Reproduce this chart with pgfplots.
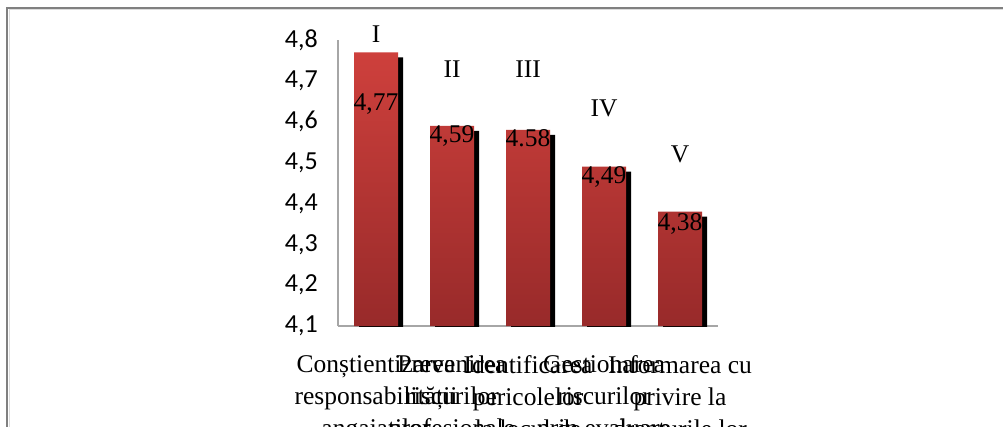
\documentclass[border=0pt]{standalone}
\usepackage{fontspec}
\setmainfont{Liberation Serif}
\newfontfamily\tickfont{Carlito}
\usepackage{pgfplots}
\usepackage{pgfplotstable}
\pgfplotsset{compat=1.18}
\definecolor{barTop}{RGB}{206,64,60}
\definecolor{barBot}{RGB}{152,42,42}
\definecolor{axGray}{RGB}{166,166,166}
\definecolor{frameGray}{RGB}{128,128,128}
\definecolor{frameLight}{RGB}{220,220,220}
\newcommand\bigfont{\fontsize{25.5}{32}\selectfont}

\pgfplotstableread{
x y label dy
0 4.77 {4,77} -58
1 4.59 {4,59} -17
2 4.58 {4.58} -17
3 4.49 {4,49} -17
4 4.38 {4,38} -19
}\datatable

\begin{document}
\begin{tikzpicture}
\useasboundingbox (0,0) rectangle (1003pt,426pt);
\clip (0,0) rectangle (1003pt,426pt);
\fill[white] (0,0) rectangle (1003pt,426pt);
\draw[frameLight, line width=1pt] (9pt,-20pt) -- (9pt,416.5pt) -- (1020pt,416.5pt);
\draw[frameGray, line width=1.6pt] (7pt,-20pt) -- (7pt,418pt) -- (1020pt,418pt);
\begin{axis}[
  at={(338pt,100pt)}, anchor=south west,
  width=380pt, height=286pt, scale only axis,
  xmin=-0.5, xmax=4.5, ymin=4.1, ymax=4.8,
  axis x line*=bottom, axis y line*=left,
  axis line style={axGray, line width=1.3pt},
  major tick length=0pt,
  ytick={4.1,4.2,4.3,4.4,4.5,4.6,4.7,4.8},
  yticklabel style={font=\tickfont\fontsize{26}{30}\selectfont, inner sep=0pt, anchor=east, xshift=-20pt,
    /pgf/number format/.cd, use comma, fixed, fixed zerofill, precision=1, assume math mode=true},
  xtick={0,1,2,3,4},
  xticklabels={{Conștientizarea\\responsabilității\\angajaților},
               {Prevenirea\\riscurilor\\profesionale},
               {Identificarea\\pericolelor\\la locul de},
               {Gestionarea\\riscurilor\\prin evaluare},
               {Informarea cu\\privire la\\drepturile lor}},
  xticklabel style={font=\bigfont, align=center, anchor=north, inner sep=0pt, yshift=-29pt},
  clip mode=global,
  bar width=44pt,
]
\addplot[ybar, bar shift=5pt, fill=black, draw=none, yshift=-5pt] table[x=x, y=y] {\datatable};
\addplot[ybar, bar shift=0pt, draw=none, top color=barTop, bottom color=barBot,
  nodes near coords, point meta=explicit symbolic,
  visualization depends on={\thisrow{dy} \as \dy},
  every node near coord/.append style={anchor=base, inner sep=0pt, yshift=\dy pt, font=\bigfont, text=black}]
  table[x=x, y=y, meta=label] {\datatable};
\coordinate (r1) at (axis cs:0,4.795);
\coordinate (r2) at (axis cs:1,4.709);
\coordinate (r3) at (axis cs:2,4.709);
\coordinate (r4) at (axis cs:3,4.612);
\coordinate (r5) at (axis cs:4,4.499);
\end{axis}
\node[anchor=base, font=\bigfont] at (r1) {I};
\node[anchor=base, font=\bigfont] at (r2) {II};
\node[anchor=base, font=\bigfont] at (r3) {III};
\node[anchor=base, font=\bigfont] at (r4) {IV};
\node[anchor=base, font=\bigfont] at (r5) {V};
\end{tikzpicture}
\end{document}
